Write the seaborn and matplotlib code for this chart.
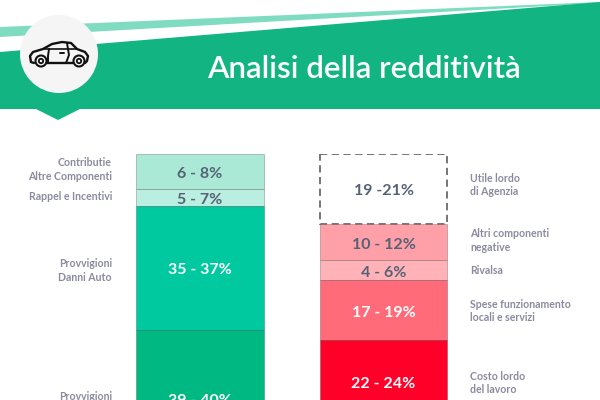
import numpy as np
import matplotlib
matplotlib.use('Agg')
import matplotlib.pyplot as plt
from matplotlib.patches import Polygon, Circle
import seaborn as sns

title = 'Analisi della redditività'
columns = ['Ricavi', 'Costi']

left_heights = [10, 5, 36, 40]
left_values = ['6 - 8%', '5 - 7%', '35 - 37%', '39 - 40%']
left_labels = ['Contributie\nAltre Componenti', 'Rappel e Incentivi',
               'Provvigioni\nDanni Auto', 'Provvigioni\nAltri Rami']
left_colors = ['#abe9d7', '#b9eee0', '#00c99f', '#00b882']
left_dark_text = [True, True, False, False]

right_heights = [20.3, 10.5, 5.8, 17.4, 24]
right_values = ['19 -21%', '10 - 12%', '4 - 6%', '17 - 19%', '22 - 24%']
right_labels = ['Utile lordo\ndi Agenzia', 'Altri componenti\nnegative', 'Rivalsa',
                'Spese funzionamento\nlocali e servizi', 'Costo lordo\ndel lavoro']
right_colors = ['#ffffff', '#ff9fa8', '#ffb3b9', '#ff6b78', '#ff0028']
right_dark_text = [True, True, True, False, False]

sns.set_theme(style='white')
plt.rcParams['font.family'] = ['Lato', 'DejaVu Sans']

GREEN = '#12b581'
VALUE_DARK = '#566275'
LABEL_GREY = '#8b8ba0'
PX = 3.45

fig = plt.figure(figsize=(6, 4), dpi=100, facecolor='white')

# header drawn in pixel coordinates
bg = fig.add_axes([0, 0, 1, 1])
bg.set_xlim(0, 600)
bg.set_ylim(400, 0)
bg.set_axis_off()
bg.add_patch(Polygon([(0, 27), (600, 2), (600, 3), (0, 37)], fc='#7fdcc0', ec='none'))
bg.add_patch(Polygon([(0, 52), (600, 2), (600, 109), (80, 109), (58, 120), (36, 109), (0, 109)],
                     fc=GREEN, ec='none'))
bg.add_patch(Circle((59, 54), 39, fc='#f5f5f5', ec='none'))

# car icon
body_x = [31, 30, 33, 43, 52, 62, 71, 77, 85, 88, 87, 85]
body_y = [62, 56, 52, 49, 44, 42, 43, 49, 52, 56, 61, 63]
bg.plot(body_x, body_y, color='#111111', lw=1.7, solid_capstyle='round')
bg.plot([31, 34], [62, 63], color='#111111', lw=1.7)
bg.plot([46, 73], [63, 63], color='#111111', lw=1.7)
bg.plot([43, 77], [49, 49], color='#111111', lw=1.2)
bg.plot([49, 48, 48], [49, 56, 63], color='#111111', lw=1.4)
bg.plot([67, 69, 66], [43, 55, 63], color='#111111', lw=1.4)
bg.plot([60, 64], [53, 53], color='#111111', lw=1.4)
for wx in (41, 79):
    bg.add_patch(Circle((wx, 61), 5.5, fc='#f5f5f5', ec='#111111', lw=1.5, zorder=3))
    bg.add_patch(Circle((wx, 61), 2.2, fc='#f5f5f5', ec='#111111', lw=1.3, zorder=3))
bg.text(364, 69.5, title, color='white', fontsize=22.5, fontweight='semibold',
        ha='center', va='center')

# stacked columns, stacked downward from the top edge
ax = fig.add_axes([108.25 / 600, 0, 367 / 600, 246 / 400])
ax.patch.set_alpha(0)
stacks = [(columns[0], left_heights, left_values, left_colors, left_dark_text),
          (columns[1], right_heights, right_values, right_colors, right_dark_text)]
for col, heights, values, colors, dark in stacks:
    bottoms = np.concatenate([[0], np.cumsum(heights)[:-1]])
    for h, b, v, c, d in zip(heights, bottoms, values, colors, dark):
        is_dashed = c == '#ffffff'
        sns.barplot(x=[col], y=[h], order=columns, bottom=b, color=c, saturation=1,
                    width=0.6975, errorbar=None, ax=ax,
                    edgecolor='#6a6a6a' if is_dashed else (0, 0, 0, 0.25),
                    linewidth=1.3 if is_dashed else 0.6,
                    linestyle=(0, (4, 2.5)) if is_dashed else '-')
        ax.text(columns.index(col), b + h / 2 + 0.7, v, ha='center', va='center', fontsize=11.5,
                fontweight='bold', color=VALUE_DARK if d else 'white')
ax.set_xlim(-0.5, 1.5)
ax.set_ylim(246 / PX, 0)
ax.set_axis_off()

# side labels, pixel positions
left_label_y = [169.5, 196, 270.5, 403]
right_label_y = [185, 240.5, 270, 311, 383]
for t, y in zip(left_labels, left_label_y):
    bg.text(112, y, t, ha='right', va='center', fontsize=7.6, fontweight='bold',
            color=LABEL_GREY, linespacing=1.3)
for t, y in zip(right_labels, right_label_y):
    bg.text(470, y, t, ha='left', va='center', fontsize=7.6, fontweight='bold',
            color=LABEL_GREY, linespacing=1.3)

fig.savefig('out.png', dpi=100)
